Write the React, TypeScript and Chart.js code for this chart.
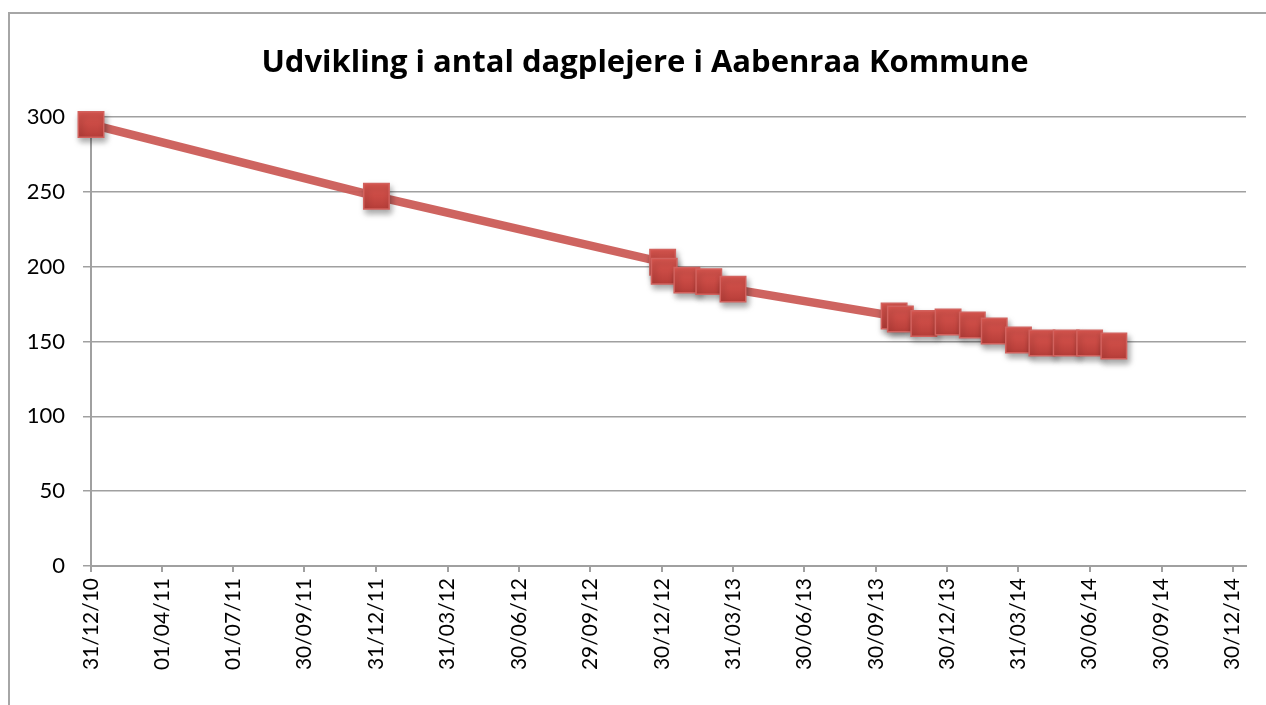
import React, { useEffect, useRef } from "react";
import { Chart, registerables } from "chart.js";

Chart.register(...registerables);

const chartTitle = "Udvikling i antal dagplejere i Aabenraa Kommune";

const xTickLabels = [
  "31/12/10", "01/04/11", "01/07/11", "30/09/11", "31/12/11", "31/03/12",
  "30/06/12", "29/09/12", "30/12/12", "31/03/13", "30/06/13", "30/09/13",
  "30/12/13", "31/03/14", "30/06/14", "30/09/14", "30/12/14",
];

const obsDates = [
  "2010-12-31", "2011-12-31", "2012-12-31", "2013-01-02", "2013-01-31",
  "2013-02-28", "2013-03-31", "2013-10-23", "2013-10-31", "2013-11-30",
  "2013-12-31", "2014-01-31", "2014-02-28", "2014-03-31", "2014-04-30",
  "2014-05-31", "2014-06-30", "2014-07-31",
];

const obsValues = [
  295, 247, 203, 197, 191, 190, 185, 167, 165, 162, 163, 161, 157, 151,
  149, 149, 149, 147,
];

const xMaxDate = "2015-01-16";
const yMin = 0;
const yMax = 300;
const yStep = 50;

const DAY = 86400000;
const origin = Date.UTC(2010, 11, 31);
const isoToDays = (s: string) => {
  const [y, m, d] = s.split("-").map(Number);
  return Math.round((Date.UTC(y, m - 1, d) - origin) / DAY);
};
const labelToDays = (s: string) => {
  const [d, m, y] = s.split("/").map(Number);
  return Math.round((Date.UTC(2000 + y, m - 1, d) - origin) / DAY);
};

const points = obsDates.map((d, i) => ({ x: isoToDays(d), y: obsValues[i] }));
const tickDays = xTickLabels.map(labelToDays);

const shadowPlugin = {
  id: "markerShadow",
  beforeDatasetDraw(chart: any, args: any) {
    if (args.index === 0) {
      const ctx = chart.ctx;
      ctx.save();
      ctx.shadowColor = "rgba(0,0,0,0.35)";
      ctx.shadowBlur = 6;
      ctx.shadowOffsetX = 2;
      ctx.shadowOffsetY = 4;
    }
  },
  afterDatasetDraw(chart: any, args: any) {
    if (args.index === 0) chart.ctx.restore();
  },
};

const titlePlugin = {
  id: "offsetTitle",
  afterDraw(chart: any) {
    const ctx = chart.ctx;
    ctx.save();
    ctx.fillStyle = "#000";
    ctx.font = "bold 31px 'Open Sans'";
    ctx.textAlign = "center";
    ctx.textBaseline = "middle";
    ctx.fillText(chartTitle, chart.width / 2 + 12, 63);
    ctx.restore();
  },
};

export default function App() {
  const ref = useRef<HTMLCanvasElement | null>(null);

  useEffect(() => {
    if (!ref.current) return;
    const chart = new Chart(ref.current, {
      type: "line",
      data: {
        datasets: [
          {
            label: "markers",
            data: points,
            showLine: false,
            pointStyle: "rect",
            pointRadius: 18,
            pointHoverRadius: 18,
            pointBorderWidth: 1.5,
            pointBorderColor: "#d2625e",
            pointBackgroundColor: (c: any) => {
              const ch = c.chart;
              if (c.type !== "data" || !ch.scales || !ch.scales.y || !c.raw) return "#cf4a44";
              const py = ch.scales.y.getPixelForValue(c.raw.y);
              if (!isFinite(py)) return "#cf4a44";
              const g = ch.ctx.createLinearGradient(0, py - 13, 0, py + 13);
              g.addColorStop(0, "#dc5750");
              g.addColorStop(1, "#b73e39");
              return g;
            },
            clip: false,
          } as any,
          {
            label: "line",
            data: points,
            borderColor: "rgba(203,92,87,0.95)",
            borderWidth: 8.5,
            pointRadius: 0,
            tension: 0,
            fill: false,
            clip: false,
          } as any,
        ],
      },
      options: {
        animation: false,
        responsive: false,
        devicePixelRatio: 1,
        events: [],
        layout: { padding: { left: 20, right: 20, top: 117, bottom: 0 } },
        plugins: {
          legend: { display: false },
          tooltip: { enabled: false },
          title: { display: false },
        },
        scales: {
          x: {
            type: "linear",
            min: 0,
            max: isoToDays(xMaxDate),
            afterBuildTicks: (scale: any) => {
              scale.ticks = tickDays.map((v) => ({ value: v }));
            },
            afterFit: (scale: any) => {
              scale.height = 139;
            },
            ticks: {
              autoSkip: false,
              maxRotation: 90,
              minRotation: 90,
              padding: 6,
              color: "#000",
              font: { family: "Lato", size: 21 },
              callback: (_v: any, i: number) => xTickLabels[i],
            },
            grid: {
              drawOnChartArea: false,
              drawTicks: true,
              tickLength: 6,
              color: "#a0a0a0",
              lineWidth: 2,
            },
            border: { display: true, color: "#a0a0a0", width: 2 },
          },
          y: {
            min: yMin,
            max: yMax,
            afterFit: (scale: any) => {
              scale.width = 71;
            },
            ticks: {
              stepSize: yStep,
              padding: 18,
              color: "#000",
              font: { family: "Lato", size: 22 },
            },
            grid: {
              color: "#a0a0a0",
              lineWidth: 1.5,
              tickLength: 8,
              drawTicks: true,
            },
            border: { display: true, color: "#a0a0a0", width: 2 },
          },
        },
      },
      plugins: [shadowPlugin, titlePlugin],
    } as any);
    return () => chart.destroy();
  }, []);

  return (
    <div
      style={{
        position: "absolute",
        left: 0,
        top: 0,
        width: 1266,
        height: 705,
        overflow: "hidden",
        background: "#fff",
      }}
    >
      <div
        style={{
          position: "absolute",
          left: 8,
          top: 12,
          width: 1280,
          height: 720,
          border: "2px solid #a6a6a6",
          boxSizing: "border-box",
        }}
      />
      <canvas
        ref={ref}
        width={1266}
        height={705}
        style={{ position: "absolute", left: 0, top: 0, width: 1266, height: 705 }}
      />
    </div>
  );
}
